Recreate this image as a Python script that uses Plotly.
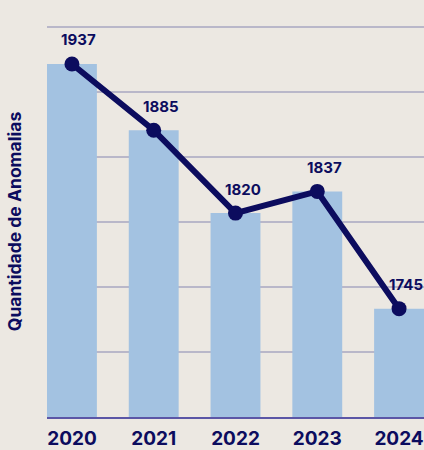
import plotly.graph_objects as go

anos = ["2020", "2021", "2022", "2023", "2024"]
anomalias = [1937, 1885, 1820, 1837, 1745]
titulo_y = "Quantidade de Anomalias"

BG = "#ece8e2"
BAR = "#a3c2e1"
NAVY = "#0c0c5e"
GRID = "#b9b7c9"
BASE = "#5b56a6"
FONT = "Inter"

fig = go.Figure()
fig.add_trace(go.Bar(
    x=anos, y=anomalias, marker=dict(color=BAR, line=dict(width=0)),
    hoverinfo="skip", showlegend=False,
))
fig.add_trace(go.Scatter(
    x=anos, y=anomalias, mode="lines+markers",
    line=dict(color=NAVY, width=6),
    marker=dict(color=NAVY, size=15),
    cliponaxis=False, showlegend=False, hoverinfo="skip",
))
for i, v in enumerate(anomalias):
    fig.add_annotation(
        x=i, y=v, text=f"<b>{v}</b>", showarrow=False,
        xshift=7, yshift=24,
        font=dict(family=FONT, size=15, color=NAVY),
    )

fig.update_layout(
    width=424, height=450,
    margin=dict(l=47, r=0, t=26, b=33, autoexpand=False),
    paper_bgcolor=BG, plot_bgcolor=BG,
    bargap=0.39,
    font=dict(family=FONT, color=NAVY),
)
fig.update_xaxes(
    type="category", range=[-0.305, 4.305], automargin=False,
    showgrid=False, showline=True, linecolor=BASE, linewidth=2,
    layer="below traces",
    ticks="outside", ticklen=3, tickcolor="rgba(0,0,0,0)",
    tickfont=dict(family=FONT, size=19, color=NAVY),
    tickprefix="<b>", ticksuffix="</b>",
)
fig.update_yaxes(
    range=[1660, 1966.8], tick0=1660, dtick=51, automargin=False,
    showgrid=True, gridcolor=GRID, gridwidth=1.5,
    zeroline=False, showticklabels=False, showline=False,
    layer="below traces",
    title=dict(text=f"<b>{titulo_y}</b>", standoff=19,
               font=dict(family=FONT, size=17.5, color=NAVY)),
)

fig.write_html(
    "out.html",
    config={"displayModeBar": False, "responsive": False},
    post_script=(
        "document.documentElement.style.overflow='hidden';"
        "document.body.style.overflow='hidden';"
        "document.body.style.margin='0';"
    ),
)
